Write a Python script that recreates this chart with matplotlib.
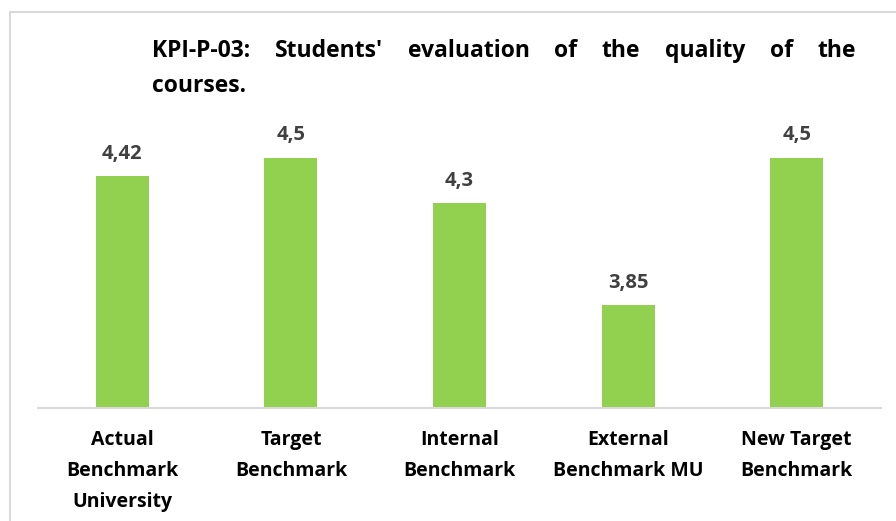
import matplotlib
matplotlib.use("Agg")
import matplotlib.pyplot as plt
from matplotlib.lines import Line2D

categories = ["Actual\nBenchmark\nUniversity", "Target\nBenchmark", "Internal\nBenchmark",
              "External\nBenchmark MU", "New Target\nBenchmark"]
values = [4.42, 4.5, 4.3, 3.85, 4.5]
value_labels = ["4,42", "4,5", "4,3", "3,85", "4,5"]
title_line1 = ["KPI-P-03:", "Students'", "evaluation", "of", "the", "quality", "of", "the"]
title_line2 = "courses."

FONT = "Open Sans"
W, H = 896, 521
fig = plt.figure(figsize=(W / 100, H / 100), dpi=100)
fig.patch.set_facecolor("white")

# frame (left and top edges visible)
fig.add_artist(Line2D([9.5 / W, 9.5 / W], [0, 1 - 11.5 / H], transform=fig.transFigure,
                      color="#D9D9D9", lw=1.5))
fig.add_artist(Line2D([9.5 / W, 1], [1 - 11.5 / H, 1 - 11.5 / H], transform=fig.transFigure,
                      color="#D9D9D9", lw=1.5))

ymin, ymax = 3.4, 4.6
px_per_unit = 227.0
base_px = 407.5
ax_h = (ymax - ymin) * px_per_unit
ax = fig.add_axes([38 / W, (H - base_px) / H, (881 - 38) / W, ax_h / H])
ax.set_facecolor("none")

x = list(range(len(values)))
bars = ax.bar(x, values, width=0.314, color="#92D050", bottom=0, zorder=2)
ax.set_ylim(ymin, ymax)
ax.set_xlim(-0.5, len(values) - 0.5)

for xi, v, lab in zip(x, values, value_labels):
    ax.annotate(lab, (xi, v), xytext=(0, 12.5), textcoords="offset points",
                ha="center", va="baseline", fontsize=14.5, fontweight="bold",
                color="#404040", family=FONT)

for s in ["top", "left", "right"]:
    ax.spines[s].set_visible(False)
ax.spines["bottom"].set_color("#D9D9D9")
ax.spines["bottom"].set_linewidth(1.5)
ax.spines["bottom"].set_zorder(3)
ax.set_yticks([])
ax.set_xticks(x)
ax.set_xticklabels(categories, fontsize=14, fontweight="bold", family=FONT,
                   color="black", linespacing=1.72)
ax.tick_params(axis="x", length=0, pad=16.5)

# justified title
x0, x1 = 152, 856
fig.canvas.draw()
renderer = fig.canvas.get_renderer()
texts = []
widths = []
for w in title_line1:
    t = fig.text(0, 0, w, fontsize=16.5, fontweight="bold", family=FONT, color="black",
                 ha="left", va="baseline")
    texts.append(t)
    widths.append(t.get_window_extent(renderer).width)
gap = (x1 - x0 - sum(widths)) / (len(title_line1) - 1)
cur = x0
for t, wd in zip(texts, widths):
    t.set_position((cur / W, 1 - 56.7 / H))
    cur += wd + gap
fig.text(x0 / W, 1 - 91.5 / H, title_line2, fontsize=16.5, fontweight="bold", family=FONT,
         color="black", ha="left", va="baseline")

fig.savefig("out.png", dpi=100)
